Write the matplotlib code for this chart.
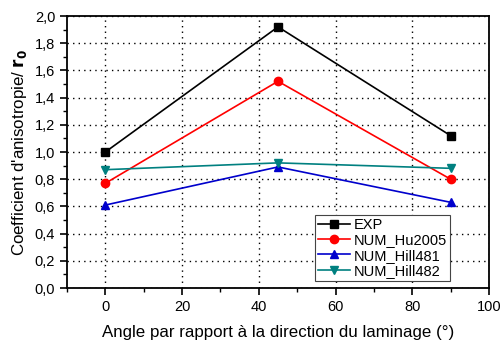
import matplotlib
matplotlib.use("Agg")
import matplotlib.pyplot as plt
from matplotlib.ticker import MultipleLocator, FuncFormatter

plt.rcParams['font.family'] = ['Liberation Sans', 'DejaVu Sans']

angles = [0, 45, 90]
exp = [1.00, 1.92, 1.12]
hu2005 = [0.77, 1.52, 0.80]
hill481 = [0.61, 0.89, 0.63]
hill482 = [0.87, 0.92, 0.88]

series = [
    ("EXP", exp, "black", "s"),
    ("NUM_Hu2005", hu2005, "red", "o"),
    ("NUM_Hill481", hill481, "#0000cc", "^"),
    ("NUM_Hill482", hill482, "#008080", "v"),
]

fig = plt.figure(figsize=(5.04, 3.44), dpi=100)
ax = fig.add_axes([67/504, 1 - 288/344, (489-67)/504, (288-16)/344])

for name, vals, col, mk in series:
    ax.plot(angles, vals, color=col, marker=mk, markersize=6, linewidth=1.2, label=name)

ax.set_xlim(-10, 100)
ax.set_ylim(0, 2.0)
ax.xaxis.set_major_locator(MultipleLocator(20))
ax.xaxis.set_minor_locator(MultipleLocator(10))
ax.yaxis.set_major_locator(MultipleLocator(0.2))
ax.yaxis.set_minor_locator(MultipleLocator(0.1))
ax.yaxis.set_major_formatter(FuncFormatter(lambda v, p: f"{v:.1f}".replace(".", ",")))
ax.grid(True, which='major', color='black', linestyle=(0, (1, 3)), linewidth=1.0)
ax.tick_params(which='major', direction='out', length=5, width=1.2, labelsize=10.5, colors='black')
ax.tick_params(which='minor', direction='out', length=3, width=1.0)
for s in ax.spines.values():
    s.set_linewidth(1.3)

ax.set_xlabel("Angle par rapport à la direction du laminage (°)", fontsize=12.2, labelpad=8)
ax.set_ylabel(r"Coefficient d'anisotropie/ $\mathbf{r_0}$", fontsize=12.2, labelpad=4)

leg = ax.legend(loc='lower left', bbox_to_anchor=(0.587, 0.026), borderaxespad=0, fontsize=10.5,
                fancybox=False, framealpha=1, edgecolor='#444444',
                handlelength=2.2, handletextpad=0.3, borderpad=0.2, labelspacing=0.1)
leg.get_frame().set_linewidth(0.8)

fig.savefig("out.png", dpi=100)
